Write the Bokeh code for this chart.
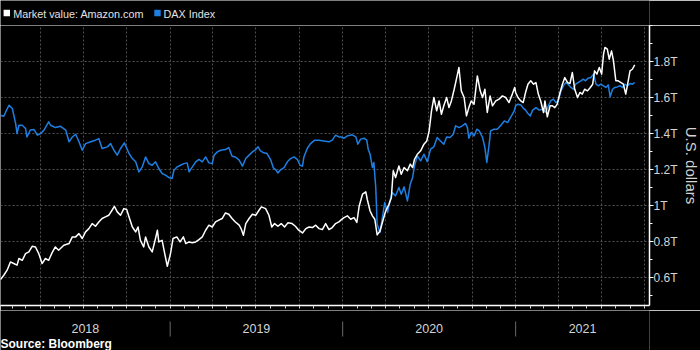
import pandas as pd
from bokeh.plotting import figure
from bokeh.layouts import column
from bokeh.models import Range1d, FixedTicker
from bokeh.core.properties import value
from bokeh.embed import file_html
from bokeh.resources import INLINE

# ---------------- data (values in trillions of U.S. dollars) ----------------
amazon_dates = [
    "2018-01-07", "2018-01-14", "2018-01-21", "2018-01-28", "2018-02-04", "2018-02-11", "2018-02-15",
    "2018-02-22", "2018-03-01", "2018-03-08", "2018-03-15", "2018-03-22", "2018-03-29", "2018-04-05",
    "2018-04-12", "2018-04-19", "2018-04-26", "2018-05-03", "2018-05-10", "2018-05-21", "2018-06-01",
    "2018-06-08", "2018-06-15", "2018-06-22", "2018-06-29", "2018-07-06", "2018-07-13", "2018-07-20",
    "2018-07-27", "2018-08-03", "2018-08-10", "2018-08-17", "2018-08-24", "2018-08-31", "2018-09-05",
    "2018-09-11", "2018-09-18", "2018-09-25", "2018-10-01", "2018-10-06", "2018-10-13", "2018-10-20",
    "2018-10-25", "2018-10-30", "2018-11-06", "2018-11-10", "2018-11-17", "2018-11-24", "2018-12-01",
    "2018-12-05", "2018-12-08", "2018-12-15", "2018-12-19", "2018-12-26", "2018-12-31",
    "2019-01-02", "2019-01-07", "2019-01-15", "2019-01-22", "2019-01-29", "2019-02-03", "2019-02-10",
    "2019-02-17", "2019-02-24", "2019-03-03", "2019-03-10", "2019-03-17", "2019-03-24", "2019-03-31",
    "2019-04-07", "2019-04-14", "2019-04-21", "2019-04-28", "2019-05-05", "2019-05-12", "2019-05-19",
    "2019-05-27", "2019-05-31", "2019-06-05", "2019-06-10", "2019-06-17", "2019-06-24", "2019-07-01",
    "2019-07-08", "2019-07-13", "2019-07-22", "2019-07-29", "2019-08-04", "2019-08-10", "2019-08-17",
    "2019-08-24", "2019-08-31", "2019-09-07", "2019-09-16", "2019-09-23", "2019-09-30", "2019-10-08",
    "2019-10-15", "2019-10-22", "2019-10-29", "2019-11-05", "2019-11-12", "2019-11-19", "2019-11-26",
    "2019-12-03", "2019-12-10", "2019-12-17", "2019-12-24", "2019-12-28",
    "2020-01-04", "2020-01-11", "2020-01-18", "2020-01-25", "2020-01-31", "2020-02-05", "2020-02-12",
    "2020-02-19", "2020-02-22", "2020-02-28", "2020-03-04", "2020-03-09", "2020-03-14", "2020-03-20",
    "2020-03-27", "2020-04-01", "2020-04-08", "2020-04-13", "2020-04-17", "2020-04-22", "2020-04-29",
    "2020-05-04", "2020-05-10", "2020-05-17", "2020-05-23", "2020-05-28", "2020-06-01", "2020-06-07",
    "2020-06-14", "2020-06-21", "2020-06-27", "2020-07-02", "2020-07-07", "2020-07-12", "2020-07-18",
    "2020-07-23", "2020-07-28", "2020-08-02", "2020-08-08", "2020-08-13", "2020-08-18", "2020-08-24",
    "2020-08-31", "2020-09-03", "2020-09-08", "2020-09-14", "2020-09-19", "2020-09-24", "2020-09-29",
    "2020-10-05", "2020-10-12", "2020-10-18", "2020-10-23", "2020-10-28", "2020-11-02", "2020-11-08",
    "2020-11-13", "2020-11-20", "2020-11-27", "2020-12-04", "2020-12-11", "2020-12-18", "2020-12-25",
    "2020-12-30",
    "2021-01-01", "2021-01-06", "2021-01-12", "2021-01-17", "2021-01-22", "2021-01-27", "2021-02-02",
    "2021-02-08", "2021-02-13", "2021-02-18", "2021-02-23", "2021-03-01", "2021-03-04", "2021-03-09",
    "2021-03-15", "2021-03-20", "2021-03-25", "2021-03-30", "2021-04-05", "2021-04-10", "2021-04-15",
    "2021-04-21", "2021-04-26", "2021-05-01", "2021-05-06", "2021-05-12", "2021-05-17", "2021-05-22",
    "2021-05-27", "2021-06-02", "2021-06-08", "2021-06-13", "2021-06-17", "2021-06-22", "2021-06-27",
    "2021-07-02", "2021-07-06", "2021-07-09", "2021-07-14", "2021-07-18", "2021-07-23", "2021-07-27",
    "2021-08-01", "2021-08-06", "2021-08-12", "2021-08-17", "2021-08-22", "2021-08-26", "2021-08-31",
    "2021-09-05", "2021-09-10",
]
amazon_values = [
    0.589, 0.613, 0.641, 0.687, 0.678, 0.669, 0.706,
    0.696, 0.733, 0.743, 0.774, 0.770, 0.733, 0.678,
    0.706, 0.696, 0.737, 0.770, 0.752, 0.780, 0.789,
    0.826, 0.826, 0.844, 0.817, 0.854, 0.872, 0.900,
    0.885, 0.909, 0.928, 0.937, 0.946, 0.974, 0.996,
    0.965, 0.946, 0.983, 0.978, 0.937, 0.881, 0.854,
    0.881, 0.807, 0.770, 0.826, 0.770, 0.743, 0.817,
    0.863, 0.798, 0.807, 0.752, 0.663, 0.715,
    0.737, 0.817, 0.826, 0.798, 0.826, 0.789, 0.798,
    0.793, 0.798, 0.811, 0.826, 0.863, 0.891, 0.881,
    0.909, 0.919, 0.928, 0.959, 0.952, 0.928, 0.909,
    0.891, 0.872, 0.835, 0.900, 0.928, 0.952, 0.946,
    0.974, 0.993, 0.983, 0.946, 0.881, 0.900, 0.885,
    0.900, 0.881, 0.904, 0.900, 0.885, 0.863, 0.848,
    0.872, 0.881, 0.878, 0.891, 0.872, 0.867, 0.900,
    0.867, 0.878, 0.900, 0.909, 0.919,
    0.933, 0.943, 0.924, 0.933, 0.906, 0.998, 1.063,
    1.076, 1.035, 0.970, 0.943, 0.924, 0.837, 0.859,
    0.924, 0.970, 1.007, 1.044, 1.193, 1.156, 1.220,
    1.174, 1.211, 1.193, 1.230, 1.211, 1.257, 1.285,
    1.304, 1.341, 1.359, 1.415, 1.526, 1.600, 1.526,
    1.581, 1.507, 1.554, 1.600, 1.544, 1.581, 1.646,
    1.730, 1.767, 1.637, 1.600, 1.498, 1.544, 1.581,
    1.563, 1.720, 1.637, 1.600, 1.646, 1.517, 1.609,
    1.554, 1.581, 1.591, 1.609, 1.600, 1.572, 1.619,
    1.656,
    1.628, 1.600, 1.581, 1.572, 1.628, 1.674, 1.693,
    1.674, 1.683, 1.619, 1.581, 1.517, 1.581, 1.493,
    1.554, 1.554, 1.544, 1.563, 1.628, 1.674, 1.711,
    1.683, 1.678, 1.739, 1.646, 1.600, 1.628, 1.619,
    1.646, 1.637, 1.656, 1.674, 1.748, 1.730, 1.767,
    1.730, 1.841, 1.878, 1.869, 1.813, 1.859, 1.804,
    1.693, 1.693, 1.683, 1.674, 1.619, 1.674, 1.748,
    1.757, 1.781,
]

dax_dates = [
    "2018-01-07", "2018-01-14", "2018-01-18", "2018-01-25", "2018-02-01", "2018-02-08", "2018-02-11",
    "2018-02-15", "2018-02-22", "2018-03-01", "2018-03-04", "2018-03-11", "2018-03-19", "2018-03-26",
    "2018-04-02", "2018-04-09", "2018-04-19", "2018-04-23", "2018-05-03", "2018-05-14", "2018-05-25",
    "2018-06-01", "2018-06-08", "2018-06-15", "2018-06-22", "2018-06-29", "2018-07-06", "2018-07-17",
    "2018-07-27", "2018-08-03", "2018-08-10", "2018-08-21", "2018-08-28", "2018-09-04", "2018-09-11",
    "2018-09-18", "2018-09-26", "2018-10-06", "2018-10-13", "2018-10-20", "2018-10-27", "2018-11-03",
    "2018-11-10", "2018-11-17", "2018-11-24", "2018-12-01", "2018-12-08", "2018-12-15", "2018-12-22",
    "2018-12-29",
    "2019-01-05", "2019-01-09", "2019-01-16", "2019-01-23", "2019-01-30", "2019-02-06", "2019-02-10",
    "2019-02-17", "2019-02-24", "2019-03-03", "2019-03-10", "2019-03-17", "2019-03-24", "2019-03-31",
    "2019-04-04", "2019-04-11", "2019-04-18", "2019-04-28", "2019-05-05", "2019-05-12", "2019-05-19",
    "2019-05-27", "2019-06-03", "2019-06-10", "2019-06-17", "2019-06-24", "2019-07-01", "2019-07-06",
    "2019-07-11", "2019-07-18", "2019-07-25", "2019-08-02", "2019-08-07", "2019-08-12", "2019-08-17",
    "2019-08-23", "2019-08-30", "2019-09-06", "2019-09-13", "2019-09-20", "2019-09-27", "2019-10-03",
    "2019-10-08", "2019-10-11", "2019-10-18", "2019-10-25", "2019-11-03", "2019-11-12", "2019-11-22",
    "2019-12-03", "2019-12-10", "2019-12-17", "2019-12-24", "2019-12-28",
    "2020-01-04", "2020-01-11", "2020-01-21", "2020-01-29", "2020-02-02", "2020-02-08", "2020-02-15",
    "2020-02-21", "2020-02-24", "2020-02-28", "2020-03-04", "2020-03-07", "2020-03-11", "2020-03-14",
    "2020-03-20", "2020-03-25", "2020-03-30", "2020-04-05", "2020-04-10", "2020-04-15", "2020-04-22",
    "2020-04-29", "2020-05-04", "2020-05-10", "2020-05-17", "2020-05-23", "2020-05-28", "2020-06-01",
    "2020-06-07", "2020-06-14", "2020-06-21", "2020-06-28", "2020-07-05", "2020-07-12", "2020-07-19",
    "2020-07-26", "2020-08-02", "2020-08-08", "2020-08-15", "2020-08-22", "2020-08-27", "2020-09-03",
    "2020-09-10", "2020-09-17", "2020-09-21", "2020-09-24", "2020-09-29", "2020-10-05", "2020-10-11",
    "2020-10-16", "2020-10-23", "2020-10-28", "2020-11-01", "2020-11-06", "2020-11-09", "2020-11-16",
    "2020-11-23", "2020-11-30", "2020-12-08", "2020-12-15", "2020-12-22", "2020-12-29",
    "2021-01-01", "2021-01-06", "2021-01-12", "2021-01-17", "2021-01-22", "2021-01-27", "2021-02-01",
    "2021-02-06", "2021-02-13", "2021-02-20", "2021-02-27", "2021-03-06", "2021-03-11", "2021-03-16",
    "2021-03-22", "2021-03-27", "2021-04-01", "2021-04-07", "2021-04-12", "2021-04-17", "2021-04-22",
    "2021-04-28", "2021-05-03", "2021-05-08", "2021-05-13", "2021-05-19", "2021-05-24", "2021-05-29",
    "2021-06-03", "2021-06-09", "2021-06-15", "2021-06-20", "2021-06-25", "2021-06-30", "2021-07-06",
    "2021-07-11", "2021-07-16", "2021-07-20", "2021-07-25", "2021-07-30", "2021-08-04", "2021-08-10",
    "2021-08-15", "2021-08-20", "2021-08-26", "2021-08-31", "2021-09-05", "2021-09-10",
]
dax_values = [
    1.502, 1.496, 1.520, 1.557, 1.539, 1.456, 1.400,
    1.446, 1.446, 1.428, 1.381, 1.419, 1.422, 1.391,
    1.400, 1.419, 1.465, 1.446, 1.433, 1.440, 1.419,
    1.354, 1.381, 1.396, 1.354, 1.307, 1.344, 1.354,
    1.363, 1.372, 1.317, 1.326, 1.344, 1.307, 1.280,
    1.317, 1.348, 1.289, 1.261, 1.243, 1.187, 1.215,
    1.270, 1.233, 1.224, 1.243, 1.206, 1.178, 1.169,
    1.156,
    1.150, 1.196, 1.215, 1.224, 1.233, 1.237, 1.187,
    1.215, 1.243, 1.256, 1.243, 1.270, 1.237, 1.233,
    1.280, 1.298, 1.307, 1.311, 1.322, 1.274, 1.270,
    1.252, 1.219, 1.261, 1.280, 1.298, 1.311, 1.326,
    1.304, 1.293, 1.289, 1.252, 1.211, 1.200, 1.181,
    1.200, 1.211, 1.243, 1.261, 1.270, 1.256, 1.224,
    1.219, 1.270, 1.317, 1.344, 1.363, 1.363, 1.359,
    1.354, 1.363, 1.391, 1.381, 1.381,
    1.374, 1.387, 1.393, 1.381, 1.341, 1.369, 1.374,
    1.363, 1.313, 1.285, 1.211, 1.239, 1.100, 0.896,
    0.850, 0.933, 1.017, 0.961, 1.026, 1.072, 1.054,
    1.100, 1.063, 1.104, 1.026, 1.119, 1.156, 1.220,
    1.276, 1.248, 1.285, 1.244, 1.313, 1.326, 1.378,
    1.359, 1.341, 1.381, 1.378, 1.396, 1.443, 1.433,
    1.443, 1.456, 1.433, 1.374, 1.406, 1.387, 1.424,
    1.415, 1.378, 1.322, 1.239, 1.341, 1.415, 1.424,
    1.424, 1.443, 1.470, 1.461, 1.493, 1.526,
    1.554, 1.563, 1.559, 1.541, 1.530, 1.511, 1.498,
    1.530, 1.544, 1.530, 1.535, 1.517, 1.552, 1.581,
    1.591, 1.572, 1.581, 1.637, 1.665, 1.683, 1.674,
    1.656, 1.646, 1.674, 1.683, 1.693, 1.702, 1.693,
    1.707, 1.711, 1.730, 1.674, 1.665, 1.674, 1.665,
    1.656, 1.670, 1.604, 1.646, 1.656, 1.659, 1.665,
    1.656, 1.674, 1.665, 1.678, 1.674, 1.683,
]

series_names = ["Market value: Amazon.com", "DAX Index"]
years = ["2018", "2019", "2020", "2021"]
year_bounds = ["2018-01-01", "2019-01-01", "2020-01-01", "2021-01-01", "2022-01-01"]
y_ticks = [0.6, 0.8, 1.0, 1.2, 1.4, 1.6, 1.8]
y_tick_labels = ["0.6T", "0.8T", "1T", "1.2T", "1.4T", "1.6T", "1.8T"]
y_minor_ticks = [0.5, 0.7, 0.9, 1.1, 1.3, 1.5, 1.7, 1.9, 2.0]
y_grid_ticks = [0.6, 0.8, 1.0, 1.2, 1.4, 1.6, 1.8, 2.0]
x_start_date = "2018-01-07"
x_end_date = "2021-10-11 06:00"
source_text = "Source: Bloomberg"
y_title = "U.S. dollars"

# ---------------- styling ----------------
FONT = "Liberation Sans"
BLUE = "#1e7fe3"
GRID = "#4f4f4f"
TEXT = "#d4d4d4"
SEP = "#6a6a6a"
FRAME_W = 649
# legend layout in pixels of the top strip (swatch centres, label starts)
LEGEND_SWATCH_X = [6.3, 157.0]
LEGEND_TEXT_X = [12.7, 163.0]


def ms(t):
    return pd.Timestamp(t).value / 1e6


def base_fig(**kw):
    return figure(output_backend="svg", toolbar_location=None,
                  background_fill_color="black", border_fill_color="black",
                  outline_line_color=None, **kw)


x_start, x_end = ms(x_start_date), ms(x_end_date)
x_range = Range1d(x_start, x_end)

# ---------------- legend strip (top) ----------------
top = base_fig(frame_width=FRAME_W, frame_height=25,
               x_range=Range1d(0, FRAME_W), y_range=Range1d(0, 25),
               x_axis_location=None, y_axis_location=None,
               min_border=0, min_border_right=700 - FRAME_W)
top.grid.visible = False
top.rect(x=LEGEND_SWATCH_X, y=[12.5, 12.5], width=6.4, height=6.4,
         fill_color=["white", BLUE], line_color=None)
top.text(x=LEGEND_TEXT_X, y=[11.8, 11.8], text=series_names, text_baseline="middle",
         text_align="left", text_font=value(FONT), text_font_size="10.8px", text_color="#e2e2e2")

# ---------------- main chart ----------------
p = base_fig(frame_width=FRAME_W, frame_height=280,
             x_axis_type="datetime", y_axis_location="right",
             x_range=x_range, y_range=Range1d(0.445, 2.0),
             min_border_left=0, min_border_top=0, min_border_bottom=5, min_border_right=0)

quarter_ticks = [ms(t) for t in pd.date_range("2018-04-01", "2021-10-01", freq="QS")]
p.xgrid.ticker = FixedTicker(ticks=quarter_ticks)
p.ygrid.ticker = FixedTicker(ticks=y_grid_ticks)
for g in (p.xgrid[0], p.ygrid[0]):
    g.grid_line_color = GRID
    g.grid_line_dash = "2 2"
    g.grid_line_width = 1

month_ticks = [ms(t) for t in pd.date_range("2018-02-01", "2021-10-01", freq="MS")]
xa = p.xaxis[0]
xa.ticker = FixedTicker(ticks=[], minor_ticks=month_ticks)
xa.major_label_standoff = 0
xa.major_tick_in = 0
xa.major_tick_out = 0
xa.minor_tick_in = 0
xa.minor_tick_out = 3
xa.minor_tick_line_color = "#cfcfcf"
xa.axis_line_color = "white"
xa.axis_line_width = 1.5

ya = p.yaxis[0]
ya.ticker = FixedTicker(ticks=y_ticks, minor_ticks=y_minor_ticks)
ya.major_label_overrides = dict(zip(y_ticks, y_tick_labels))
ya.major_label_text_font = FONT
ya.major_label_text_font_size = "12px"
ya.major_label_text_color = TEXT
ya.major_label_standoff = 0
ya.major_tick_in = 0
ya.major_tick_out = 4
ya.minor_tick_in = 0
ya.minor_tick_out = 3
ya.major_tick_line_color = "white"
ya.minor_tick_line_color = "white"
ya.axis_line_color = "white"
ya.axis_line_width = 1.5
ya.axis_label = y_title
ya.axis_label_text_font = FONT
ya.axis_label_text_font_size = "15px"
ya.axis_label_text_font_style = "normal"
ya.axis_label_text_color = TEXT
ya.axis_label_standoff = 2

p.line(pd.to_datetime(dax_dates), dax_values, line_color=BLUE, line_width=1.5, line_join="round")
p.line(pd.to_datetime(amazon_dates), amazon_values, line_color="white", line_width=1.5, line_join="round")

# ---------------- footer: year labels, year separators, source ----------------
year_centres = []
for i in range(len(years)):
    a = max(ms(year_bounds[i]), x_start)
    b = min(ms(year_bounds[i + 1]), x_end)
    year_centres.append((a + b) / 2)
sep_x = [ms(b) for b in year_bounds[1:4]]

foot = base_fig(frame_width=FRAME_W, frame_height=40, x_range=x_range, y_range=Range1d(0, 40),
                x_axis_location=None, y_axis_location=None,
                min_border=0, min_border_right=700 - FRAME_W)
foot.grid.visible = False
foot.segment(x0=sep_x, y0=[14] * 3, x1=sep_x, y1=[29] * 3, line_color=SEP, line_width=1)
foot.text(x=year_centres, y=[22] * 4, text=years, text_align="center", text_baseline="middle",
          text_font=value(FONT), text_font_size="12.5px", text_color=TEXT)
foot.text(x=[x_start], y=[7], text=[source_text], text_align="left", text_baseline="middle",
          text_font=value(FONT), text_font_size="12px", text_font_style="bold", text_color="white")

layout = column(top, p, foot, spacing=0)
open("out.html", "w").write(file_html(layout, INLINE))
